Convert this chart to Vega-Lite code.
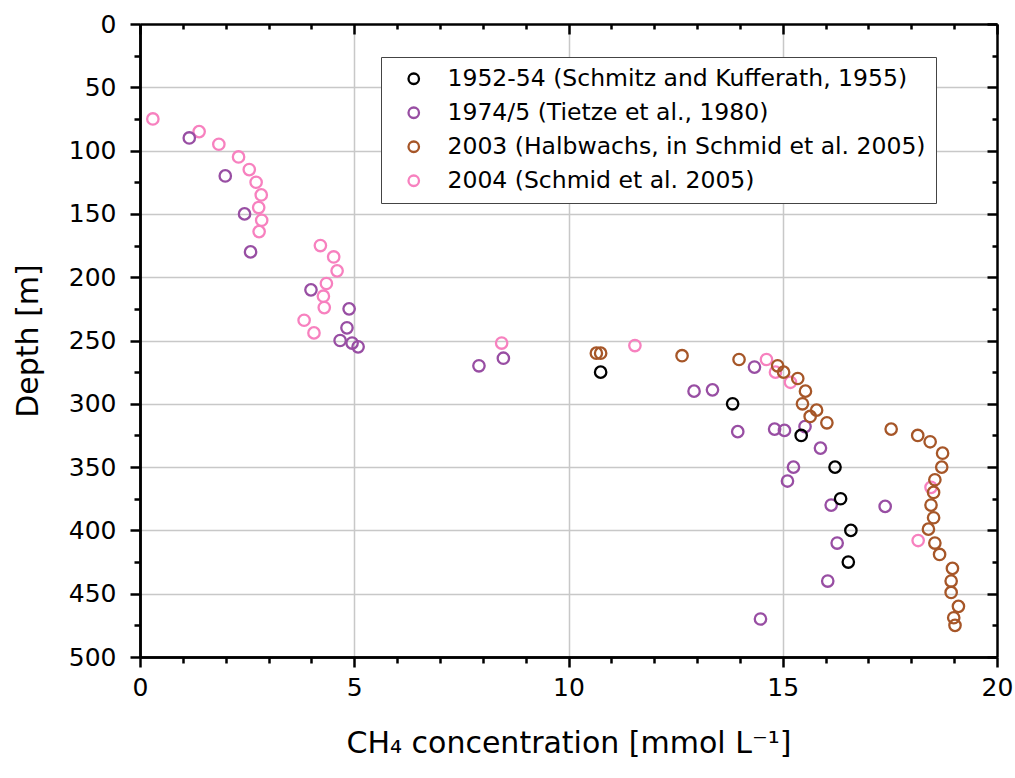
{
  "$schema": "https://vega.github.io/schema/vega-lite/v6.json",
  "width": 857,
  "height": 633,
  "autosize": "none",
  "padding": {"left": 140, "top": 24, "right": 18, "bottom": 121},
  "background": "white",
  "config": {"view": {"stroke": null}, "font": "DejaVu Sans"},
  "data": {"values": [
    {"series": "2004 (Schmid et al. 2005)", "conc": 0.3, "depth": 75},
    {"series": "2004 (Schmid et al. 2005)", "conc": 1.38, "depth": 85},
    {"series": "2004 (Schmid et al. 2005)", "conc": 1.84, "depth": 95},
    {"series": "2004 (Schmid et al. 2005)", "conc": 2.3, "depth": 105},
    {"series": "2004 (Schmid et al. 2005)", "conc": 2.55, "depth": 115},
    {"series": "2004 (Schmid et al. 2005)", "conc": 2.71, "depth": 125},
    {"series": "2004 (Schmid et al. 2005)", "conc": 2.83, "depth": 135},
    {"series": "2004 (Schmid et al. 2005)", "conc": 2.77, "depth": 145},
    {"series": "2004 (Schmid et al. 2005)", "conc": 2.84, "depth": 155},
    {"series": "2004 (Schmid et al. 2005)", "conc": 2.78, "depth": 164},
    {"series": "2004 (Schmid et al. 2005)", "conc": 4.21, "depth": 175},
    {"series": "2004 (Schmid et al. 2005)", "conc": 4.52, "depth": 184},
    {"series": "2004 (Schmid et al. 2005)", "conc": 4.6, "depth": 195},
    {"series": "2004 (Schmid et al. 2005)", "conc": 4.35, "depth": 205},
    {"series": "2004 (Schmid et al. 2005)", "conc": 4.28, "depth": 215},
    {"series": "2004 (Schmid et al. 2005)", "conc": 4.3, "depth": 224},
    {"series": "2004 (Schmid et al. 2005)", "conc": 3.83, "depth": 234},
    {"series": "2004 (Schmid et al. 2005)", "conc": 4.06, "depth": 244},
    {"series": "2004 (Schmid et al. 2005)", "conc": 8.44, "depth": 252},
    {"series": "2004 (Schmid et al. 2005)", "conc": 11.55, "depth": 254},
    {"series": "2004 (Schmid et al. 2005)", "conc": 14.62, "depth": 265},
    {"series": "2004 (Schmid et al. 2005)", "conc": 14.83, "depth": 275},
    {"series": "2004 (Schmid et al. 2005)", "conc": 15.18, "depth": 283},
    {"series": "2004 (Schmid et al. 2005)", "conc": 18.46, "depth": 366},
    {"series": "2004 (Schmid et al. 2005)", "conc": 18.16, "depth": 408},
    {"series": "1974/5 (Tietze et al., 1980)", "conc": 1.15, "depth": 90},
    {"series": "1974/5 (Tietze et al., 1980)", "conc": 1.99, "depth": 120},
    {"series": "1974/5 (Tietze et al., 1980)", "conc": 2.44, "depth": 150},
    {"series": "1974/5 (Tietze et al., 1980)", "conc": 2.58, "depth": 180},
    {"series": "1974/5 (Tietze et al., 1980)", "conc": 3.99, "depth": 210},
    {"series": "1974/5 (Tietze et al., 1980)", "conc": 4.88, "depth": 225},
    {"series": "1974/5 (Tietze et al., 1980)", "conc": 4.83, "depth": 240},
    {"series": "1974/5 (Tietze et al., 1980)", "conc": 4.67, "depth": 250},
    {"series": "1974/5 (Tietze et al., 1980)", "conc": 4.95, "depth": 252},
    {"series": "1974/5 (Tietze et al., 1980)", "conc": 5.09, "depth": 255},
    {"series": "1974/5 (Tietze et al., 1980)", "conc": 7.91, "depth": 270},
    {"series": "1974/5 (Tietze et al., 1980)", "conc": 8.48, "depth": 264},
    {"series": "1974/5 (Tietze et al., 1980)", "conc": 12.93, "depth": 290},
    {"series": "1974/5 (Tietze et al., 1980)", "conc": 13.36, "depth": 289},
    {"series": "1974/5 (Tietze et al., 1980)", "conc": 14.34, "depth": 271},
    {"series": "1974/5 (Tietze et al., 1980)", "conc": 13.95, "depth": 322},
    {"series": "1974/5 (Tietze et al., 1980)", "conc": 14.81, "depth": 320},
    {"series": "1974/5 (Tietze et al., 1980)", "conc": 15.04, "depth": 321},
    {"series": "1974/5 (Tietze et al., 1980)", "conc": 15.52, "depth": 318},
    {"series": "1974/5 (Tietze et al., 1980)", "conc": 15.88, "depth": 335},
    {"series": "1974/5 (Tietze et al., 1980)", "conc": 15.25, "depth": 350},
    {"series": "1974/5 (Tietze et al., 1980)", "conc": 15.11, "depth": 361},
    {"series": "1974/5 (Tietze et al., 1980)", "conc": 16.13, "depth": 380},
    {"series": "1974/5 (Tietze et al., 1980)", "conc": 17.39, "depth": 381},
    {"series": "1974/5 (Tietze et al., 1980)", "conc": 16.27, "depth": 410},
    {"series": "1974/5 (Tietze et al., 1980)", "conc": 16.05, "depth": 440},
    {"series": "1974/5 (Tietze et al., 1980)", "conc": 14.48, "depth": 470},
    {"series": "2003 (Halbwachs, in Schmid et al. 2005)", "conc": 10.65, "depth": 260},
    {"series": "2003 (Halbwachs, in Schmid et al. 2005)", "conc": 10.75, "depth": 260},
    {"series": "2003 (Halbwachs, in Schmid et al. 2005)", "conc": 12.65, "depth": 262},
    {"series": "2003 (Halbwachs, in Schmid et al. 2005)", "conc": 13.98, "depth": 265},
    {"series": "2003 (Halbwachs, in Schmid et al. 2005)", "conc": 14.88, "depth": 270},
    {"series": "2003 (Halbwachs, in Schmid et al. 2005)", "conc": 15.02, "depth": 275},
    {"series": "2003 (Halbwachs, in Schmid et al. 2005)", "conc": 15.35, "depth": 280},
    {"series": "2003 (Halbwachs, in Schmid et al. 2005)", "conc": 15.53, "depth": 290},
    {"series": "2003 (Halbwachs, in Schmid et al. 2005)", "conc": 15.46, "depth": 300},
    {"series": "2003 (Halbwachs, in Schmid et al. 2005)", "conc": 15.79, "depth": 305},
    {"series": "2003 (Halbwachs, in Schmid et al. 2005)", "conc": 15.64, "depth": 310},
    {"series": "2003 (Halbwachs, in Schmid et al. 2005)", "conc": 16.03, "depth": 315},
    {"series": "2003 (Halbwachs, in Schmid et al. 2005)", "conc": 17.53, "depth": 320},
    {"series": "2003 (Halbwachs, in Schmid et al. 2005)", "conc": 18.15, "depth": 325},
    {"series": "2003 (Halbwachs, in Schmid et al. 2005)", "conc": 18.44, "depth": 330},
    {"series": "2003 (Halbwachs, in Schmid et al. 2005)", "conc": 18.73, "depth": 339},
    {"series": "2003 (Halbwachs, in Schmid et al. 2005)", "conc": 18.71, "depth": 350},
    {"series": "2003 (Halbwachs, in Schmid et al. 2005)", "conc": 18.55, "depth": 360},
    {"series": "2003 (Halbwachs, in Schmid et al. 2005)", "conc": 18.52, "depth": 370},
    {"series": "2003 (Halbwachs, in Schmid et al. 2005)", "conc": 18.46, "depth": 380},
    {"series": "2003 (Halbwachs, in Schmid et al. 2005)", "conc": 18.52, "depth": 390},
    {"series": "2003 (Halbwachs, in Schmid et al. 2005)", "conc": 18.4, "depth": 399},
    {"series": "2003 (Halbwachs, in Schmid et al. 2005)", "conc": 18.55, "depth": 410},
    {"series": "2003 (Halbwachs, in Schmid et al. 2005)", "conc": 18.66, "depth": 419},
    {"series": "2003 (Halbwachs, in Schmid et al. 2005)", "conc": 18.96, "depth": 430},
    {"series": "2003 (Halbwachs, in Schmid et al. 2005)", "conc": 18.93, "depth": 440},
    {"series": "2003 (Halbwachs, in Schmid et al. 2005)", "conc": 18.93, "depth": 449},
    {"series": "2003 (Halbwachs, in Schmid et al. 2005)", "conc": 19.1, "depth": 460},
    {"series": "2003 (Halbwachs, in Schmid et al. 2005)", "conc": 18.99, "depth": 469},
    {"series": "2003 (Halbwachs, in Schmid et al. 2005)", "conc": 19.02, "depth": 475},
    {"series": "1952-54 (Schmitz and Kufferath, 1955)", "conc": 10.75, "depth": 275},
    {"series": "1952-54 (Schmitz and Kufferath, 1955)", "conc": 13.83, "depth": 300},
    {"series": "1952-54 (Schmitz and Kufferath, 1955)", "conc": 15.43, "depth": 325},
    {"series": "1952-54 (Schmitz and Kufferath, 1955)", "conc": 16.22, "depth": 350},
    {"series": "1952-54 (Schmitz and Kufferath, 1955)", "conc": 16.35, "depth": 375},
    {"series": "1952-54 (Schmitz and Kufferath, 1955)", "conc": 16.59, "depth": 400},
    {"series": "1952-54 (Schmitz and Kufferath, 1955)", "conc": 16.53, "depth": 425}
  ]},
  "layer": [
    {
      "mark": {"type": "point", "opacity": 0},
      "encoding": {
        "x": {
          "field": "conc", "type": "quantitative",
          "scale": {"domain": [0, 20], "nice": false, "zero": false},
          "axis": {
            "orient": "top", "title": null, "labels": false, "ticks": false,
            "values": [5, 10, 15],
            "grid": true, "gridColor": "#c8c8c8", "gridWidth": 1.5,
            "domainColor": "black", "domainWidth": 2.5
          }
        },
        "y": {
          "field": "depth", "type": "quantitative",
          "scale": {"domain": [0, 500], "nice": false, "reverse": true},
          "axis": {
            "orient": "right", "title": null, "labels": false, "ticks": false,
            "values": [50, 100, 150, 200, 250, 300, 350, 400, 450],
            "grid": true, "gridColor": "#c8c8c8", "gridWidth": 1.5,
            "domainColor": "black", "domainWidth": 2.5
          }
        }
      }
    },
    {
      "mark": {"type": "point", "filled": false, "size": 130, "strokeWidth": 2.3, "opacity": 1},
      "encoding": {
        "x": {
          "field": "conc", "type": "quantitative",
          "axis": {
            "orient": "bottom",
            "values": [0, 5, 10, 15, 20],
            "ticks": true, "tickSize": 10, "grid": false,
            "domainColor": "black", "domainWidth": 2.5,
            "tickColor": "black", "tickWidth": 2.5,
            "labelFontSize": 25, "labelColor": "black", "labelPadding": 8,
            "labelFlush": false, "labelOverlap": false,
            "title": "CH₄ concentration [mmol L⁻¹]",
            "titleFontSize": 30, "titleFontWeight": "normal", "titleColor": "black", "titlePadding": 28
          }
        },
        "y": {
          "field": "depth", "type": "quantitative",
          "axis": {
            "orient": "left",
            "values": [0, 50, 100, 150, 200, 250, 300, 350, 400, 450, 500],
            "ticks": true, "tickSize": 10, "grid": false,
            "domainColor": "black", "domainWidth": 2.5,
            "tickColor": "black", "tickWidth": 2.5,
            "labelFontSize": 25, "labelColor": "black", "labelPadding": 14,
            "labelFlush": false, "labelOverlap": false,
            "title": "Depth [m]",
            "titleFontSize": 30, "titleFontWeight": "normal", "titleColor": "black", "titlePadding": 25
          }
        },
        "color": {
          "field": "series", "type": "nominal",
          "scale": {
            "domain": ["1952-54 (Schmitz and Kufferath, 1955)", "1974/5 (Tietze et al., 1980)", "2003 (Halbwachs, in Schmid et al. 2005)", "2004 (Schmid et al. 2005)"],
            "range": ["#000000", "#984ea3", "#a65628", "#f781bf"]
          },
          "legend": {
            "title": null, "orient": "none", "legendX": 241, "legendY": 33,
            "padding": 10, "rowPadding": 9, "symbolOffset": 11, "labelOffset": 22,
            "labelFontSize": 23.5, "labelColor": "black", "labelLimit": 600,
            "symbolType": "circle", "symbolSize": 110, "symbolStrokeWidth": 2.3, "symbolFillColor": "transparent",
            "fillColor": "white", "strokeColor": "#444444",
            "encode": {"legend": {"update": {"strokeWidth": {"value": 1.5}}}}
          }
        }
      }
    },
    {
      "mark": {"type": "point", "opacity": 0},
      "encoding": {
        "x": {
          "field": "conc", "type": "quantitative",
          "axis": {
            "orient": "bottom", "title": null, "labels": false, "grid": false,
            "values": [1, 2, 3, 4, 6, 7, 8, 9, 11, 12, 13, 14, 16, 17, 18, 19],
            "ticks": true, "tickSize": 10, "tickDash": [6, 20],
            "domainColor": "black", "domainWidth": 2.5,
            "tickColor": "black", "tickWidth": 2.5
          }
        },
        "y": {
          "field": "depth", "type": "quantitative",
          "axis": {
            "orient": "left", "title": null, "labels": false, "grid": false,
            "values": [25, 75, 125, 175, 225, 275, 325, 375, 425, 475],
            "ticks": true, "tickSize": 10, "tickDash": [6, 20],
            "domainColor": "black", "domainWidth": 2.5,
            "tickColor": "black", "tickWidth": 2.5
          }
        }
      }
    },
    {
      "mark": {"type": "point", "opacity": 0},
      "encoding": {
        "x": {
          "field": "conc", "type": "quantitative",
          "axis": {
            "orient": "top", "title": null, "labels": false, "grid": false, "domain": false,
            "offset": -10,
            "values": [0, 5, 10, 15, 20],
            "ticks": true, "tickSize": 10, "tickColor": "black", "tickWidth": 2.5
          }
        },
        "y": {
          "field": "depth", "type": "quantitative",
          "axis": {
            "orient": "right", "title": null, "labels": false, "grid": false, "domain": false,
            "offset": -10,
            "values": [0, 50, 100, 150, 200, 250, 300, 350, 400, 450, 500],
            "ticks": true, "tickSize": 10, "tickColor": "black", "tickWidth": 2.5
          }
        }
      }
    },
    {
      "mark": {"type": "point", "opacity": 0},
      "encoding": {
        "x": {
          "field": "conc", "type": "quantitative",
          "axis": {
            "orient": "top", "title": null, "labels": false, "grid": false, "domain": false,
            "offset": -10,
            "values": [1, 2, 3, 4, 6, 7, 8, 9, 11, 12, 13, 14, 16, 17, 18, 19],
            "ticks": true, "tickSize": 10, "tickDash": [0, 5, 5, 20],
            "tickColor": "black", "tickWidth": 2.5
          }
        },
        "y": {
          "field": "depth", "type": "quantitative",
          "axis": {
            "orient": "right", "title": null, "labels": false, "grid": false, "domain": false,
            "offset": -10,
            "values": [25, 75, 125, 175, 225, 275, 325, 375, 425, 475],
            "ticks": true, "tickSize": 10, "tickDash": [0, 5, 5, 20],
            "tickColor": "black", "tickWidth": 2.5
          }
        }
      }
    }
  ],
  "resolve": {"axis": {"x": "independent", "y": "independent"}}
}
